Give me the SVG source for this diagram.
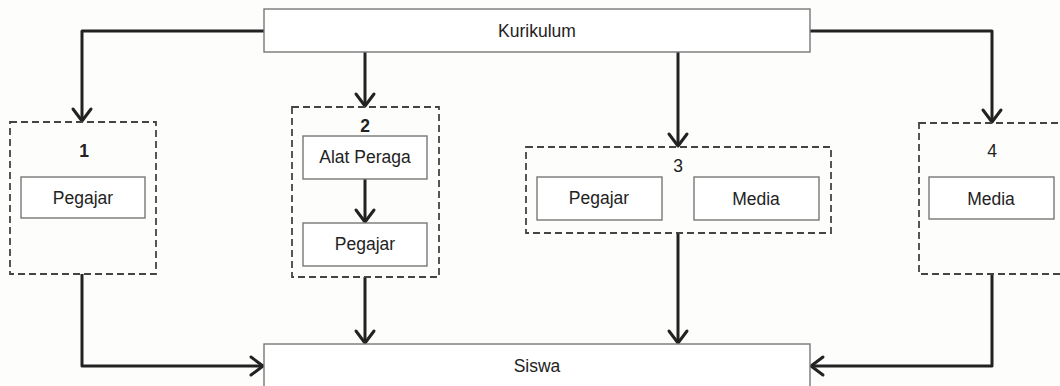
<svg xmlns="http://www.w3.org/2000/svg" width="1060" height="386" viewBox="0 0 1060 386">
<style>
text{font-family:"Liberation Sans",Arial,sans-serif;font-size:17.5px;fill:#222;text-anchor:middle}
.b{fill:#fff;stroke:#777;stroke-width:1.4}
.d{fill:none;stroke:#444;stroke-width:1.8;stroke-dasharray:7 4}
.c{fill:none;stroke:#222;stroke-width:3;stroke-linejoin:round}
.n{font-weight:bold}
</style>
<defs>
<marker id="ah" markerUnits="userSpaceOnUse" viewBox="-14 -11 16 22" refX="0" refY="0" markerWidth="16" markerHeight="22" orient="auto" overflow="visible">
<path d="M-12,-9 L0,0 L-12,9" fill="none" stroke="#222" stroke-width="3" stroke-linejoin="round" stroke-linecap="round"/>
</marker>
</defs>
<rect width="1060" height="386" fill="#fdfdfc"/>
<g id="connectors">
<path class="c" d="M264,31 H82 V121" marker-end="url(#ah)"/>
<path class="c" d="M365,52 V106" marker-end="url(#ah)"/>
<path class="c" d="M678,52 V146" marker-end="url(#ah)"/>
<path class="c" d="M810,31 H992 V122" marker-end="url(#ah)"/>
<path class="c" d="M365,179 V222" marker-end="url(#ah)"/>
<path class="c" d="M82,274 V366 H263" marker-end="url(#ah)"/>
<path class="c" d="M365,277 V343" marker-end="url(#ah)"/>
<path class="c" d="M678,233 V343" marker-end="url(#ah)"/>
<path class="c" d="M992,274 V366 H811" marker-end="url(#ah)"/>
</g>
<g id="kurikulum">
<rect class="b" x="264" y="9" width="546" height="43"/>
<text x="537" y="37">Kurikulum</text>
</g>
<g id="siswa">
<rect class="b" x="264" y="344" width="546" height="60"/>
<text x="537" y="372">Siswa</text>
</g>
<g id="group1">
<rect class="d" x="10" y="122" width="146" height="152"/>
<text class="n" x="84" y="157">1</text>
<g id="g1-pegajar">
<rect class="b" x="21" y="177" width="124" height="41"/>
<text x="83" y="204">Pegajar</text>
</g>
</g>
<g id="group2">
<rect class="d" x="292" y="107" width="147" height="170"/>
<text class="n" x="365" y="132">2</text>
<g id="g2-alat">
<rect class="b" x="303" y="136" width="124" height="43"/>
<text x="365" y="163">Alat Peraga</text>
</g>
<g id="g2-pegajar">
<rect class="b" x="303" y="223" width="124" height="43"/>
<text x="365" y="250">Pegajar</text>
</g>
</g>
<g id="group3">
<rect class="d" x="526" y="147" width="305" height="86"/>
<text x="678" y="172">3</text>
<g id="g3-pegajar">
<rect class="b" x="537" y="177" width="125" height="43"/>
<text x="599" y="204">Pegajar</text>
</g>
<g id="g3-media">
<rect class="b" x="694" y="177" width="125" height="43"/>
<text x="756" y="205">Media</text>
</g>
</g>
<g id="group4">
<rect class="d" x="919" y="123" width="160" height="151"/>
<text x="992" y="157">4</text>
<g id="g4-media">
<rect class="b" x="929" y="177" width="125" height="42"/>
<text x="991" y="205">Media</text>
</g>
</g>
</svg>
